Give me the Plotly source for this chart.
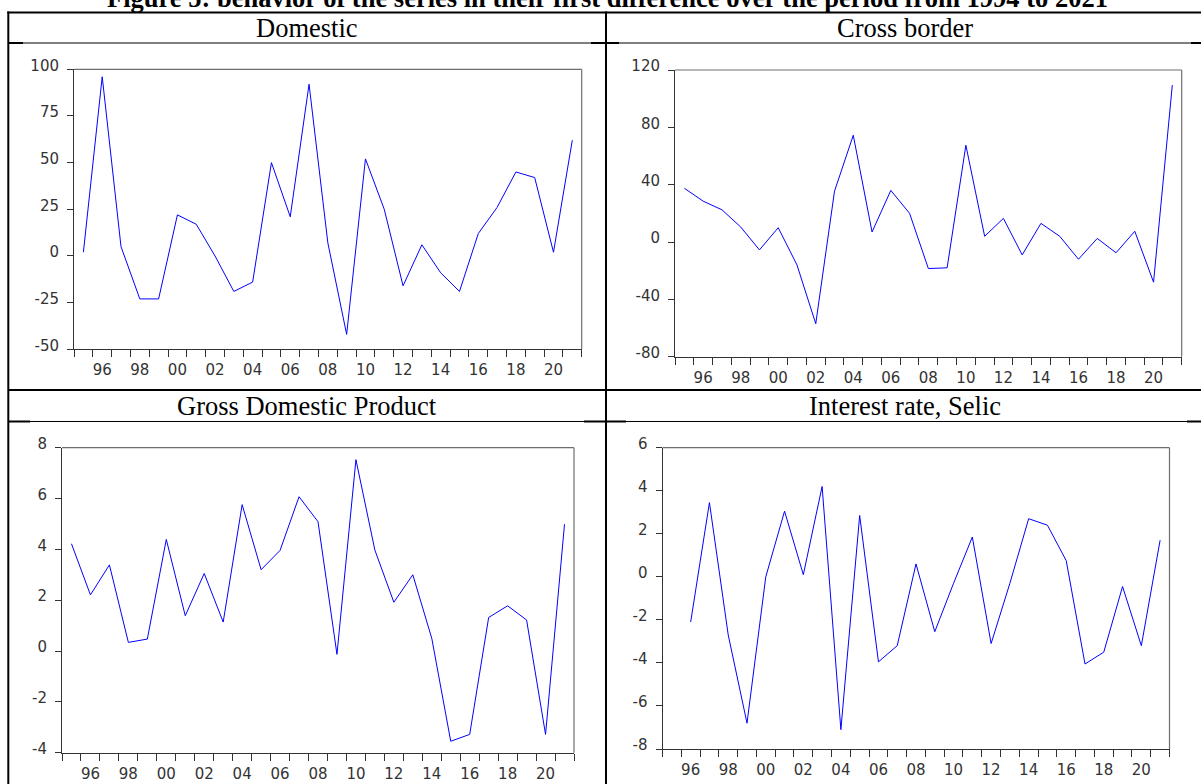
import plotly.graph_objects as go

W, H = 1201, 784

# ---------------- data ----------------
years = list(range(1995, 2022))
selic_years = list(range(1996, 2022))

domestic = [2, 96, 5, -23, -23, 22, 17, 0, -19, -14, 50, 21, 92, 7, -42, 52, 25,
            -16, 6, -9, -19, 12, 26, 45, 42, 2, 62]
cross_border = [37.5, 28.5, 22.5, 10.5, -5.5, 10, -16, -57, 35.5, 74.5, 7, 36, 20,
                -18.5, -18, 67.5, 4, 16.5, -9, 13, 4, -12, 2.5, -7.5, 7.5, -28, 109.5]
gdp = [4.22, 2.21, 3.39, 0.34, 0.47, 4.39, 1.39, 3.05, 1.14, 5.76, 3.2, 3.96, 6.07,
       5.09, -0.13, 7.53, 3.97, 1.92, 3.0, 0.5, -3.55, -3.28, 1.32, 1.78, 1.22, -3.28, 4.99]
selic = [-2.1, 3.45, -2.7, -6.8, 0.0, 3.05, 0.1, 4.2, -7.1, 2.85, -3.95, -3.2, 0.6,
         -2.55, -0.3, 1.85, -3.1, -0.3, 2.7, 2.4, 0.75, -4.05, -3.5, -0.45, -3.2, 1.7]

label_years = list(range(1996, 2021, 2))
label_text = ["%02d" % (y % 100) for y in label_years]
boundary_ticks = [y - 0.5 for y in years] + [years[-1] + 0.5]

domestic_ticks = [-50, -25, 0, 25, 50, 75, 100]
cross_ticks = [-80, -40, 0, 40, 80, 120]
gdp_ticks = [-4, -2, 0, 2, 4, 6, 8]
selic_ticks = [-8, -6, -4, -2, 0, 2, 4, 6]

titles = ["Domestic", "Cross border", "Gross Domestic Product", "Interest rate, Selic"]
main_title = "Figure 5: behavior of the series in their first difference over the period from 1994 to 2021"

# ---------------- layout helpers ----------------
def px(x):
    return x / W

def py(y):
    return 1 - y / H

panels = [
    # (x, y, yticks, box left, right, top, bottom in pixels)
    (years, domestic, domestic_ticks, 74, 581.7, 69.3, 349.3),
    (years, cross_border, cross_ticks, 675, 1181.7, 70, 356.7),
    (years, gdp, gdp_ticks, 62, 574, 447.7, 752.7),
    (selic_years, selic, selic_ticks, 662.5, 1169.5, 447.7, 749),
]

fig = go.Figure()
layout = dict(
    width=W, height=H,
    margin=dict(l=0, r=0, t=0, b=0, pad=0, autoexpand=False),
    paper_bgcolor="white", plot_bgcolor="white",
    showlegend=False,
)
shapes = []
annotations = []
tick_font = dict(family="DejaVu Sans", size=15, color="#333333")
axis_color = "#333333"

for i, (xs, ys, yt, l, r, t, b) in enumerate(panels):
    n = "" if i == 0 else str(i + 1)
    fig.add_trace(go.Scatter(x=xs, y=ys, mode="lines",
                             line=dict(color="#0000FF", width=1),
                             xaxis="x" + n, yaxis="y" + n, hoverinfo="skip"))
    layout["xaxis" + n] = dict(
        domain=[px(l), px(r)], anchor="y" + n,
        range=[years[0] - 0.5, years[-1] + 0.5],
        tickmode="array", tickvals=label_years, ticktext=label_text,
        ticks="", showgrid=False, zeroline=False,
        showline=True, linecolor=axis_color, linewidth=1,
        tickfont=tick_font, ticklabelstandoff=7,
        minor=dict(tickmode="array", tickvals=boundary_ticks, ticks="outside",
                   ticklen=7, tickwidth=1, tickcolor=axis_color, showgrid=False),
    )
    layout["yaxis" + n] = dict(
        domain=[py(b), py(t)], anchor="x" + n,
        range=[yt[0], yt[-1]],
        tickmode="array", tickvals=yt, ticktext=[str(v) for v in yt],
        ticks="outside", ticklen=6, tickwidth=1, tickcolor=axis_color,
        showgrid=False, zeroline=False,
        showline=True, linecolor=axis_color, linewidth=1,
        tickfont=tick_font, ticklabelshift=-4, ticklabelstandoff=5,
    )
    # gray top and right frame
    xr = "x" + n + " domain"
    yr = "y" + n + " domain"
    shapes.append(dict(type="line", xref=xr, yref=yr, x0=0, x1=1, y0=1, y1=1,
                       line=dict(color="#6e6e6e", width=1.2)))
    shapes.append(dict(type="line", xref=xr, yref=yr, x0=1, x1=1, y0=0, y1=1,
                       line=dict(color="#6e6e6e", width=1.2)))

# ---------------- table lines ----------------
def hline(y, x0, x1, w):
    shapes.append(dict(type="line", xref="paper", yref="paper",
                       x0=px(x0), x1=px(x1), y0=py(y), y1=py(y),
                       line=dict(color="black", width=w)))

def vline(x, y0, y1, w):
    shapes.append(dict(type="line", xref="paper", yref="paper",
                       x0=px(x), x1=px(x), y0=py(y0), y1=py(y1),
                       line=dict(color="black", width=w)))

hline(12.5, 7.3, 1201, 2)
vline(8.3, 11.5, 784, 2)
vline(606, 11.5, 784, 2)
hline(43, 8, 1201, 1.2)
hline(390, 8, 1201, 2)
hline(421.5, 8, 1201, 1.2)
for (a, c) in [(8, 23), (591, 619), (1191, 1201)]:
    hline(43, a, c, 2)
for (a, c) in [(8, 30), (584, 626), (1187, 1201)]:
    hline(421.5, a, c, 2)

# ---------------- texts ----------------
title_font = dict(family="Liberation Serif", size=26.5, color="black")
annotations.append(dict(text="<b>" + main_title + "</b>", xref="paper", yref="paper",
                        x=px(607), y=py(-1.5), xanchor="center", yanchor="middle",
                        showarrow=False, font=title_font))
centers = [(307, 28.3), (905, 28.3), (307, 405.8), (905, 405.8)]
for txt, (cx, cy) in zip(titles, centers):
    annotations.append(dict(text=txt, xref="paper", yref="paper",
                            x=px(cx), y=py(cy), xanchor="center", yanchor="middle",
                            showarrow=False, font=title_font))

layout["shapes"] = shapes
layout["annotations"] = annotations
fig.update_layout(**layout)
fig.write_html("out.html",
               config={"displayModeBar": False, "staticPlot": True},
               post_script="document.body.style.margin='0px';document.body.style.overflow='hidden';")
